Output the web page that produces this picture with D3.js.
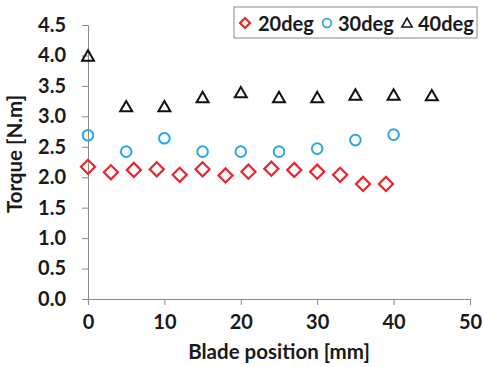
<!DOCTYPE html>
<html>
  <head>
    <meta charset="utf-8">
    <title>Torque vs blade position</title>
    <style>
      body { margin: 0; background: #fff; }
      svg text { font-family: Lato, "Open Sans", sans-serif; font-weight: bold; fill: #1a1a1a; }
    </style>
  </head>
  <body>
  <div id="chart"></div>
  <script src="https://cdnjs.cloudflare.com/ajax/libs/d3/7.8.5/d3.min.js"></script>
  <script>
    // values
    var pos20 = [0, 3, 6, 9, 12, 15, 18, 21, 24, 27, 30, 33, 36, 39];
    var torque20 = [2.17, 2.08, 2.12, 2.13, 2.04, 2.13, 2.03, 2.09, 2.14, 2.12, 2.09, 2.04, 1.89, 1.89];
    var pos30 = [0, 5, 10, 15, 20, 25, 30, 35, 40];
    var torque30 = [2.69, 2.42, 2.64, 2.42, 2.42, 2.42, 2.47, 2.61, 2.70];
    var pos40 = [0, 5, 10, 15, 20, 25, 30, 35, 40, 45];
    var torque40 = [3.97, 3.14, 3.14, 3.29, 3.37, 3.29, 3.29, 3.33, 3.33, 3.32];
    var seriesNames = ["20deg", "30deg", "40deg"];
    var xTicks = [0, 10, 20, 30, 40, 50];
    var yTicks = [0, 0.5, 1, 1.5, 2, 2.5, 3, 3.5, 4, 4.5];

    var W = 484, H = 367;
    var margin = {top: 25, right: 14, bottom: 68, left: 88};
    var width = W - margin.left - margin.right,
        height = H - margin.top - margin.bottom;

    var svg = d3.select("#chart").append("svg")
        .attr("width", W).attr("height", H);
    var g = svg.append("g")
        .attr("transform", `translate(${margin.left}, ${margin.top})`);

    var x = d3.scaleLinear().domain([0, 50]).range([0, width]);
    var y = d3.scaleLinear().domain([0, 4.5]).range([height, 0]);

    // axes
    var xAxis = g.append("g")
        .attr("transform", `translate(0, ${height})`)
        .call(d3.axisBottom(x).tickValues(xTicks).tickSize(6).tickPadding(10).tickFormat(d3.format("d")));
    var yAxis = g.append("g")
        .call(d3.axisLeft(y).tickValues(yTicks).tickSize(6).tickPadding(16).tickFormat(d3.format(".1f")));
    [xAxis, yAxis].forEach(function (a) {
      a.select(".domain").attr("stroke", "#898989");
      a.selectAll(".tick line").attr("stroke", "#898989");
      a.selectAll(".tick text").style("font-size", "20px").attr("fill", "#1a1a1a");
    });

    g.append("text")
        .attr("x", width / 2)
        .attr("y", height + 60)
        .attr("text-anchor", "middle")
        .style("font-size", "20.5px")
        .text("Blade position [mm]");
    g.append("text")
        .attr("transform", "rotate(-90)")
        .attr("x", -(height / 2) + 8)
        .attr("y", -66)
        .attr("text-anchor", "middle")
        .style("font-size", "20.5px")
        .text("Torque [N.m]");

    function points(xs, ys) { return xs.map(function (v, i) { return {x: v, y: ys[i]}; }); }

    g.append("g").selectAll("path")
      .data(points(pos20, torque20))
      .join("path")
        .attr("d", d3.symbol().type(d3.symbolSquare).size(100)())
        .attr("transform", function (d) { return `translate(${x(d.x)}, ${y(d.y)}) rotate(45)`; })
        .attr("fill", "none").attr("stroke", "#e8262b").attr("stroke-width", 2.2);

    g.append("g").selectAll("circle")
      .data(points(pos30, torque30))
      .join("circle")
        .attr("cx", function (d) { return x(d.x); })
        .attr("cy", function (d) { return y(d.y); })
        .attr("r", 5.3)
        .attr("fill", "none").attr("stroke", "#2ba8e0").attr("stroke-width", 2);

    var tri = d3.symbol().type(d3.symbolTriangle).size(62)();
    g.append("g").selectAll("path")
      .data(points(pos40, torque40))
      .join("path")
        .attr("d", tri)
        .attr("transform", function (d) { return `translate(${x(d.x)}, ${y(d.y)})`; })
        .attr("fill", "none").attr("stroke", "#111").attr("stroke-width", 2);

    // legend
    var leg = svg.append("g").attr("transform", "translate(234, 7)");
    leg.append("rect").attr("width", 243).attr("height", 31)
      .attr("fill", "#fff").attr("stroke", "#898989").attr("stroke-width", 1);
    var legItems = [
      {mx: 11, tx: 24, name: seriesNames[0]},
      {mx: 93, tx: 104, name: seriesNames[1]},
      {mx: 173, tx: 184, name: seriesNames[2]}
    ];
    leg.append("path")
      .attr("d", d3.symbol().type(d3.symbolSquare).size(50)())
      .attr("transform", `translate(${legItems[0].mx}, 16) rotate(45)`)
      .attr("fill", "none").attr("stroke", "#e8262b").attr("stroke-width", 2.2);
    leg.append("circle").attr("cx", legItems[1].mx).attr("cy", 16).attr("r", 4.3)
      .attr("fill", "none").attr("stroke", "#2ba8e0").attr("stroke-width", 1.8);
    leg.append("path")
      .attr("d", d3.symbol().type(d3.symbolTriangle).size(45)())
      .attr("transform", `translate(${legItems[2].mx}, 17)`)
      .attr("fill", "none").attr("stroke", "#111").attr("stroke-width", 1.6);
    leg.selectAll("text.lab")
      .data(legItems)
      .join("text")
        .attr("class", "lab")
        .attr("x", function (d) { return d.tx; })
        .attr("y", 24)
        .style("font-size", "20px")
        .text(function (d) { return d.name; });
  </script>
  </body>
</html>
